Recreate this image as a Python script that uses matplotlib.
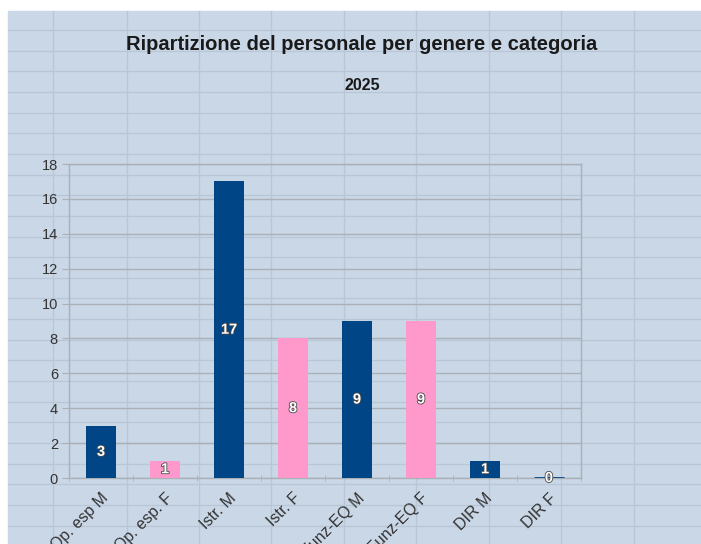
import numpy as np
import matplotlib.pyplot as plt
import matplotlib.patheffects as pe
import matplotlib.transforms as mtransforms
from matplotlib.patches import Rectangle

# data
categories = ['Op. esp M', 'Op. esp. F', 'Istr. M', 'Istr. F',
              'Funz-EQ M', 'Funz-EQ F', 'DIR M', 'DIR F']
counts = [3, 1, 17, 8, 9, 9, 1, 0]
colors = ['#004586', '#ff99cc', '#004586', '#ff99cc',
          '#004586', '#ff99cc', '#004586', '#004586']
y_ticks = [0, 2, 4, 6, 8, 10, 12, 14, 16, 18]

title = 'Ripartizione del personale per genere e categoria'
subtitle = '2025'

plt.rcParams['font.family'] = ['Liberation Sans', 'DejaVu Sans']

W, H = 701, 544
fig = plt.figure(figsize=(W / 100, H / 100), dpi=100, facecolor='white')

# spreadsheet background (cells behind the chart)
bg = fig.add_axes([0, 0, 1, 1])
bg.set_xlim(0, W)
bg.set_ylim(H, 0)
bg.axis('off')
bg.add_patch(Rectangle((8, 11), W - 8, H - 11, color='#cad7e7', zorder=0))
for cx in [53, 127, 199, 271, 344, 416, 489, 561, 634]:
    bg.plot([cx, cx], [11, H], color='#b9c6d6', lw=0.9, zorder=1)
for ry in np.arange(30, H, 20.65):
    bg.plot([8, W], [ry, ry], color='#b9c6d6', lw=0.9, zorder=1)

# chart
left, right, top, bottom = 69, 581, 164, 478
ax = fig.add_axes([left / W, 1 - bottom / H, (right - left) / W, (bottom - top) / H])
ax.patch.set_alpha(0)

x = np.arange(len(categories))
bars = ax.bar(x, counts, width=0.48, color=colors, zorder=3)
# zero bar shows as a thin line
for b, v, c in zip(bars, counts, colors):
    if v == 0:
        b.set_edgecolor(c)
        b.set_linewidth(2)

for xi, v in zip(x, counts):
    ax.text(xi, v / 2, str(v), ha='center', va='center', color='white',
            fontsize=10.5, fontweight='bold', zorder=5,
            path_effects=[pe.withStroke(linewidth=1.2, foreground='#4a4a4a')])

ax.set_xlim(-0.5, len(categories) - 0.5)
ax.set_ylim(0, 18)
ax.set_yticks(y_ticks)
ax.grid(axis='y', color='#a9b0b8', lw=1, zorder=1)

ax.set_xticks(x)
ax.set_xticklabels(categories, rotation=45, ha='right', rotation_mode='anchor',
                   fontsize=11.5, color='#333333')
offset = mtransforms.ScaledTranslation(8 / 100, 0, fig.dpi_scale_trans)
for lbl in ax.get_xticklabels():
    lbl.set_transform(lbl.get_transform() + offset)
ax.set_xticks(np.arange(-0.5, len(categories)), minor=True)
ax.tick_params(axis='x', which='major', length=0, pad=9)
ax.tick_params(axis='x', which='minor', length=4, direction='inout', color='#a9b0b8')
ax.tick_params(axis='y', length=5, color='#a9b0b8', labelsize=10.5, labelcolor='#333333', pad=3)

for s in ax.spines.values():
    s.set_color('#a9b0b8')
    s.set_linewidth(1)

fig.text(362 / W, 1 - 44 / H, title, ha='center', va='center',
         fontsize=14.5, fontweight='bold', color='#1a1a1a')
fig.text(362 / W, 1 - 85 / H, subtitle, ha='center', va='center',
         fontsize=11.5, fontweight='bold', color='#1a1a1a')

fig.savefig('out.png', dpi=100)
